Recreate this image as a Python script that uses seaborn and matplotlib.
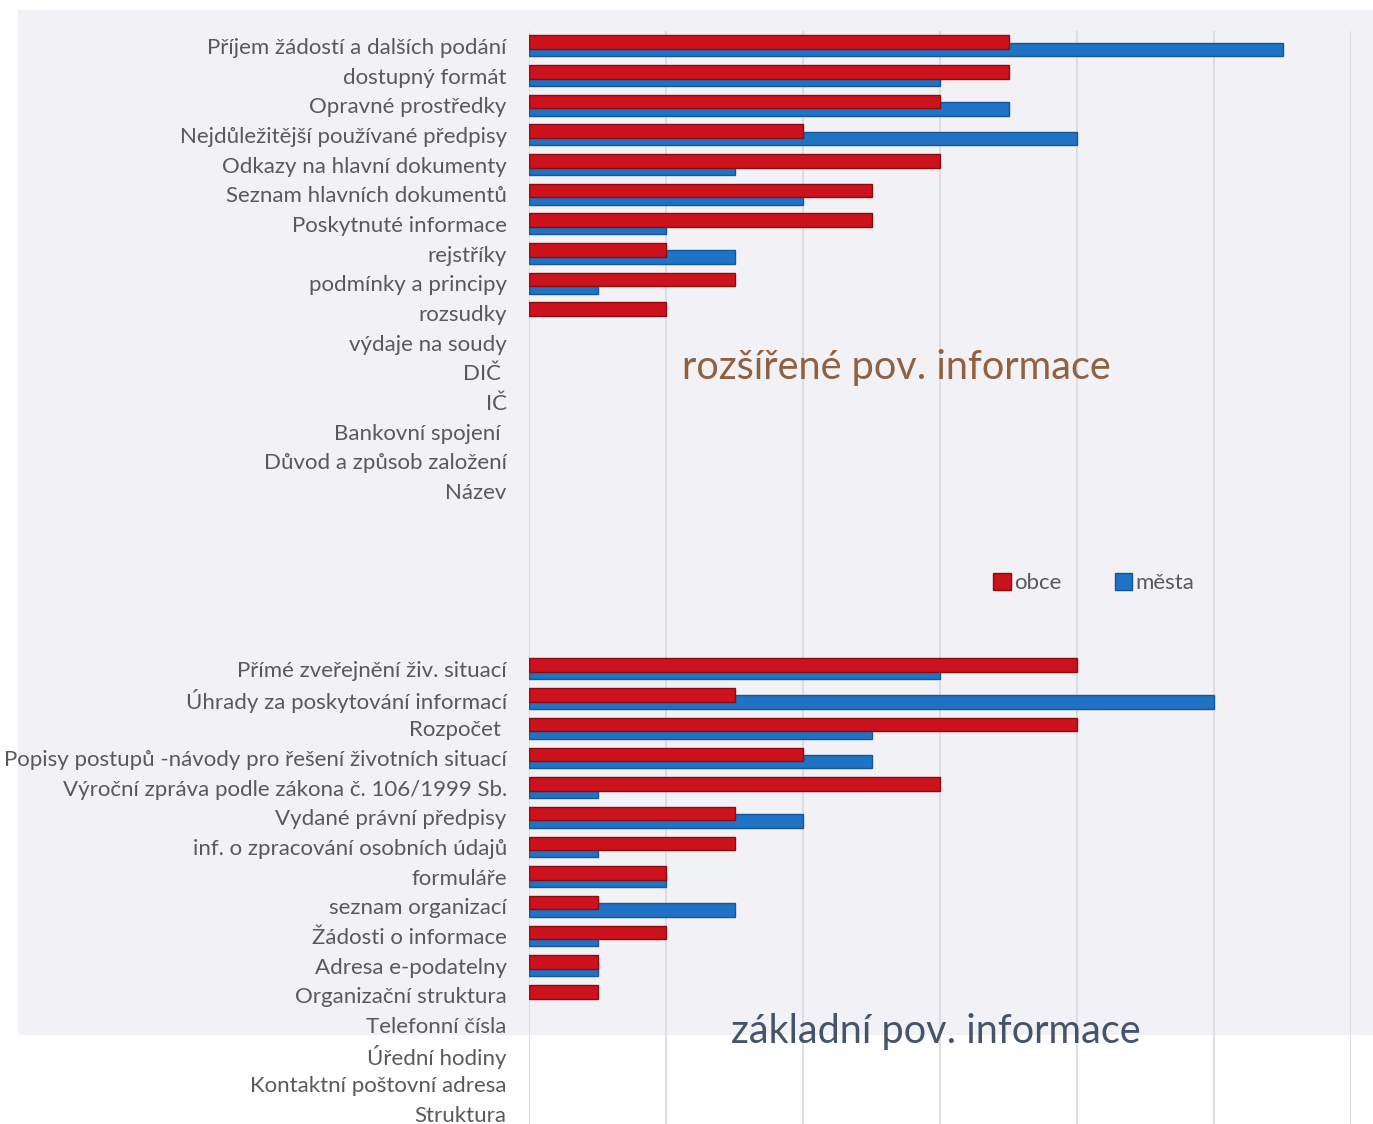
import matplotlib
matplotlib.use("Agg")
import matplotlib.pyplot as plt
from matplotlib.patches import Rectangle
import seaborn as sns
import pandas as pd

# rozšířené povinné informace (shora dolů)
rozsirene = ["Příjem žádostí a dalších podání", "dostupný formát", "Opravné prostředky",
             "Nejdůležitější používané předpisy", "Odkazy na hlavní dokumenty",
             "Seznam hlavních dokumentů", "Poskytnuté informace", "rejstříky",
             "podmínky a principy", "rozsudky", "výdaje na soudy", "DIČ ", "IČ",
             "Bankovní spojení ", "Důvod a způsob založení", "Název"]
rozsirene_obce = [7, 7, 6, 4, 6, 5, 5, 2, 3, 2, 0, 0, 0, 0, 0, 0]
rozsirene_mesta = [11, 6, 7, 8, 3, 4, 2, 3, 1, 0, 0, 0, 0, 0, 0, 0]

# základní povinné informace
zakladni = ["Přímé zveřejnění živ. situací", "Úhrady za poskytování informací", "Rozpočet ",
            "Popisy postupů -návody pro řešení životních situací",
            "Výroční zpráva podle zákona č. 106/1999 Sb.", "Vydané právní předpisy",
            "inf. o zpracování osobních údajů", "formuláře", "seznam organizací",
            "Žádosti o informace", "Adresa e-podatelny", "Organizační struktura",
            "Telefonní čísla", "Úřední hodiny", "Kontaktní poštovní adresa", "Struktura"]
zakladni_obce = [8, 3, 8, 4, 6, 3, 3, 2, 1, 2, 1, 1, 0, 0, 0, 0]
zakladni_mesta = [6, 10, 5, 5, 1, 4, 1, 2, 3, 1, 1, 0, 0, 0, 0, 0]

serie = ["obce", "města"]
barvy = {"obce": "#cc121c", "města": "#1f72c4"}
okraje = {"obce": "#8e0a10", "města": "#15569a"}

mezera = [" " * (i + 1) for i in range(5)]
poradi = rozsirene + mezera + zakladni

rows = []
for kat, o, m in zip(rozsirene + zakladni, rozsirene_obce + zakladni_obce,
                     rozsirene_mesta + zakladni_mesta):
    rows.append({"kategorie": kat, "skupina": "obce", "hodnota": o})
    rows.append({"kategorie": kat, "skupina": "města", "hodnota": m})
df = pd.DataFrame(rows)

sns.set_style("white")
plt.rcParams["font.family"] = ["Lato", "DejaVu Sans"]

fig = plt.figure(figsize=(13.73, 11.24), dpi=100)
# světle šedý podklad (jako na předloze)
fig.patches.append(Rectangle((18 / 1373, 1 - 1035 / 1124), 1 - 18 / 1373, (1035 - 10) / 1124,
                             transform=fig.transFigure, facecolor="#f2f2f6",
                             edgecolor="none", zorder=-5))
ax = fig.add_axes([529 / 1373, 0, (1351 - 529) / 1373, 1 - 31 / 1124])
ax.set_facecolor("none")

sns.barplot(data=df, y="kategorie", x="hodnota", hue="skupina", order=poradi,
            hue_order=serie, palette=barvy, orient="h", width=0.48, dodge=True,
            saturation=1, errorbar=None, legend=False, ax=ax)

# překryv sloupců jako v Excelu
n = len(df) // 2
for i, p in enumerate(ax.patches[:2 * n]):
    s = serie[0] if i < n else serie[1]
    c = p.get_y() + p.get_height() / 2
    h = 0.46
    p.set_y(c - h / 2)
    p.set_height(h)
    p.set_edgecolor(okraje[s])
    p.set_linewidth(1.0 if p.get_width() > 0 else 0)
    p.set_zorder(3 if s == "obce" else 2)

ax.set_xlim(0, 12)
ax.set_ylim(36.34, -0.5)
ax.set_xticks(range(0, 13, 2))
ax.set_xticklabels([])
ax.grid(axis="x", color="#d9d9dd", linewidth=1.2)
ax.set_axisbelow(True)
ax.tick_params(axis="y", length=0, pad=16, labelsize=16, labelcolor="#595959")
ax.tick_params(axis="x", length=0)
ax.set_ylabel("")
ax.set_xlabel("")
sns.despine(ax=ax, left=True, bottom=True)

ax.text(5.37, 10.85, "rozšířené pov. informace", fontsize=28.5, color="#91603f",
        va="center", ha="center")
ax.text(5.94, 33.23, "základní pov. informace", fontsize=28.5, color="#44546a",
        va="center", ha="center")

handles = [Rectangle((0, 0), 1, 1, facecolor=barvy[s], edgecolor=okraje[s]) for s in serie]
leg = ax.legend(handles, serie, loc="center", bbox_to_anchor=(0.687, 0.495), ncol=2,
                frameon=False, fontsize=16, handlelength=0.8, handleheight=0.8,
                handletextpad=0.15, columnspacing=2.4)
for t in leg.get_texts():
    t.set_color("#595959")

fig.savefig("out.png", dpi=100)
